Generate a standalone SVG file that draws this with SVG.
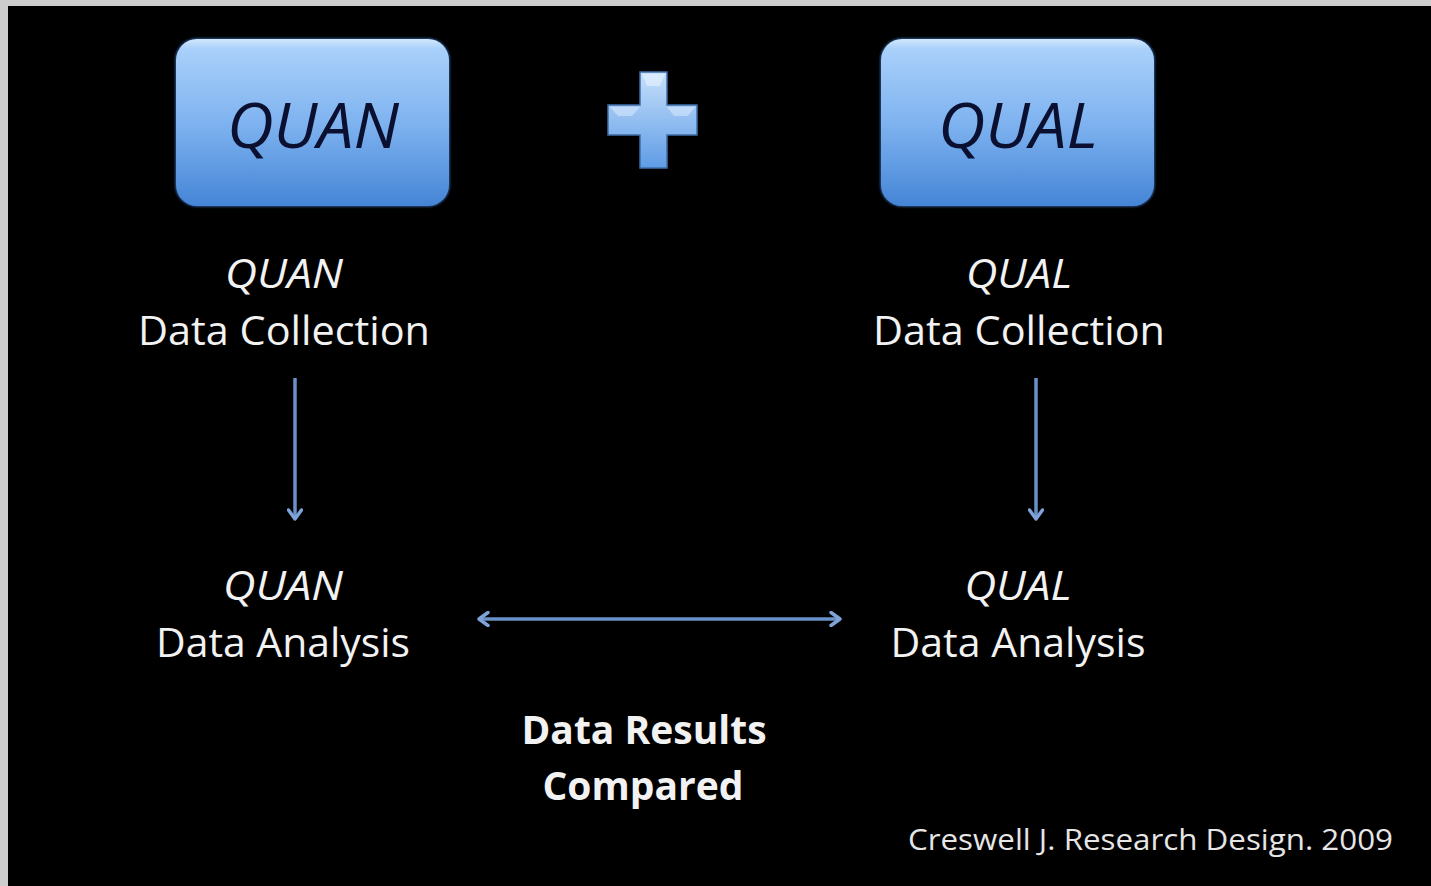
<svg xmlns="http://www.w3.org/2000/svg" width="1431" height="886" viewBox="0 0 1431 886">
<defs>
<style>
.lbl{font-family:"Open Sans","Liberation Sans",sans-serif;font-size:41px;fill:#f2f2f2;text-anchor:middle}
.it{font-style:italic}
.bold{font-weight:bold;font-size:39px}
.boxt{font-family:"Open Sans","Liberation Sans",sans-serif;font-style:italic;font-size:62px;fill:#0b1030;text-anchor:middle}
.conn{stroke:#6a90c8;stroke-width:3.5;fill:none}
.cite{font-family:"Open Sans","Liberation Sans",sans-serif;font-size:30px;fill:#e6e6e6}
</style>
<linearGradient id="boxg" x1="0" y1="0" x2="0" y2="1">
<stop offset="0" stop-color="#d2e7fd"/>
<stop offset="0.06" stop-color="#a9d0fa"/>
<stop offset="0.5" stop-color="#7fb3f0"/>
<stop offset="1" stop-color="#4585d6"/>
</linearGradient>
<linearGradient id="plusg" x1="0" y1="0" x2="0" y2="1">
<stop offset="0" stop-color="#c6e0fb"/>
<stop offset="1" stop-color="#5f9ce6"/>
</linearGradient>
<filter id="glow" x="-10%" y="-10%" width="120%" height="120%">
<feGaussianBlur stdDeviation="1.2"/>
</filter>
<marker id="ah" viewBox="0 0 16 16" refX="12" refY="8" markerWidth="16" markerHeight="16" markerUnits="userSpaceOnUse" orient="auto-start-reverse">
<path d="M3,1.5 L12,8 L3,14.5" fill="none" stroke="#7fa3d8" stroke-width="3.4" stroke-linecap="round" stroke-linejoin="round"/>
</marker>
</defs>
<rect x="0" y="0" width="1431" height="886" fill="#cdcdcd"/>
<rect x="8" y="6" width="1423" height="880" fill="#000"/>

<g id="quan-box">
<rect x="175" y="38" width="275" height="169" rx="22" fill="#2a4d80" filter="url(#glow)"/>
<rect x="176" y="39" width="273" height="167" rx="21" fill="url(#boxg)"/>
<text class="boxt" x="313" y="148" textLength="172" lengthAdjust="spacingAndGlyphs">QUAN</text>
</g>

<g id="plus">
<path d="M640,72 H667 V105 H697 V135 H667 V168 H640 V135 H608 V105 H640 Z" fill="url(#plusg)" stroke="#3f6ea8" stroke-width="1.5"/>
<path d="M642,74 H665 L660,86 H647 Z" fill="#e2f0ff" opacity="0.7"/>
<path d="M610,107 H640 L632,116 H618 Z" fill="#e2f0ff" opacity="0.5"/>
<path d="M667,107 H695 L688,116 H674 Z" fill="#e2f0ff" opacity="0.5"/>
</g>

<g id="qual-box">
<rect x="880" y="38" width="275" height="169" rx="22" fill="#2a4d80" filter="url(#glow)"/>
<rect x="881" y="39" width="273" height="167" rx="21" fill="url(#boxg)"/>
<text class="boxt" x="1018" y="148" textLength="160" lengthAdjust="spacingAndGlyphs">QUAL</text>
</g>

<g id="quan-collection">
<text class="lbl it" x="284" y="288" textLength="118" lengthAdjust="spacingAndGlyphs">QUAN</text>
<text class="lbl" x="284" y="345" textLength="292" lengthAdjust="spacingAndGlyphs">Data Collection</text>
</g>

<g id="qual-collection">
<text class="lbl it" x="1019" y="288" textLength="106" lengthAdjust="spacingAndGlyphs">QUAL</text>
<text class="lbl" x="1019" y="345" textLength="292" lengthAdjust="spacingAndGlyphs">Data Collection</text>
</g>

<g id="quan-analysis">
<text class="lbl it" x="283" y="600" textLength="120" lengthAdjust="spacingAndGlyphs">QUAN</text>
<text class="lbl" x="283" y="657" textLength="254" lengthAdjust="spacingAndGlyphs">Data Analysis</text>
</g>

<g id="qual-analysis">
<text class="lbl it" x="1018" y="600" textLength="107" lengthAdjust="spacingAndGlyphs">QUAL</text>
<text class="lbl" x="1018" y="657" textLength="255" lengthAdjust="spacingAndGlyphs">Data Analysis</text>
</g>

<g id="results">
<text class="lbl bold" x="644" y="744">Data Results</text>
<text class="lbl bold" x="643" y="800">Compared</text>
</g>

<g id="citation">
<text class="cite" x="908" y="850" textLength="485" lengthAdjust="spacingAndGlyphs">Creswell J. Research Design. 2009</text>
</g>

<g id="connectors">
<line class="conn" x1="295" y1="378" x2="295" y2="519" marker-end="url(#ah)"/>
<line class="conn" x1="1036" y1="378" x2="1036" y2="519" marker-end="url(#ah)"/>
<line class="conn" x1="479" y1="619" x2="840" y2="619" marker-start="url(#ah)" marker-end="url(#ah)"/>
</g>
</svg>
